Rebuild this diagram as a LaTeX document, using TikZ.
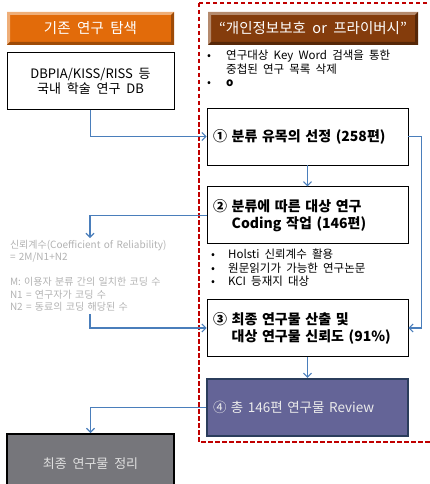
\documentclass[tikz,border=0pt]{standalone}
\usepackage{fontspec}
\setmainfont{Noto Sans CJK KR}[WordSpace=2]
\usepackage{xcolor}
\usetikzlibrary{arrows.meta,positioning}
\definecolor{linkblue}{HTML}{4A7EBB}
\definecolor{hdrorange}{HTML}{E26B0A}
\definecolor{hdrbrown}{HTML}{843C0C}
\definecolor{reviewfill}{HTML}{646497}
\definecolor{reviewline}{HTML}{2B3D5C}
\definecolor{finalfill}{HTML}{76767B}
\definecolor{framered}{HTML}{C00000}
\newcommand{\bul}[1]{\makebox[#1][l]{•}}

\begin{document}
\begin{tikzpicture}[
        x=1pt, y=1pt,
        bevel/.style n args={3}{fill=#1, path picture={
            \fill[#2] (path picture bounding box.south west) -- (path picture bounding box.north west) -- (path picture bounding box.north east)
                -- ([shift={(-3pt,-3pt)}]path picture bounding box.north east) -- ([shift={(3pt,-3pt)}]path picture bounding box.north west)
                -- ([shift={(3pt,3pt)}]path picture bounding box.south west) -- cycle;
            \fill[#3] (path picture bounding box.south west) -- (path picture bounding box.south east) -- (path picture bounding box.north east)
                -- ([shift={(-3pt,-3pt)}]path picture bounding box.north east) -- ([shift={(-3pt,3pt)}]path picture bounding box.south east)
                -- ([shift={(3pt,3pt)}]path picture bounding box.south west) -- cycle;
        }},
        hdr/.style={minimum height=33pt, text=white, font=\fontsize{14.5}{16}\selectfont, inner sep=0pt},
        box/.style={draw, line width=0.8pt, minimum width=167pt, align=center, font=\fontsize{13}{15}\selectfont},
        stepbox/.style={draw, line width=0.8pt, minimum width=201pt, minimum height=57pt, text width=189pt, inner xsep=6pt,
            align=left, font=\fontsize{14}{17}\selectfont\bfseries},
        notes/.style={align=left, inner sep=0pt, font=\fontsize{11.5}{13.5}\selectfont},
        arrow/.style={-{Straight Barb[length=4pt,width=8pt]}, linkblue, line width=1.1pt},
        frame/.style={framered, line width=1.3pt, dash pattern=on 4.5pt off 2.5pt}
    ]
    \useasboundingbox (0,0) rectangle (430,-484);

    % left column
    \node[hdr, bevel={hdrorange}{hdrorange!55!white}{hdrorange!70!black}, minimum width=167pt] (srch) at (90.5,-28.5) {기존 연구 탐색};
    \node[box, minimum height=57pt, below=7pt of srch] (db) {DBPIA/KISS/RISS 등\\국내 학술 연구 DB};
    \node[align=left, text width=160pt, inner sep=2pt, text=black!30, font=\fontsize{10}{12.5}\selectfont, anchor=north] (coef) at (90,-238)
        {신뢰계수(Coefficient of Reliability)\\= 2M/N1+N2\\[12.5pt]M: 이용자 분류 간의 일치한 코딩 수\\N1 = 연구자가 코딩 수\\N2 = 동료의 코딩 해당된 수};
    \node[box, fill=finalfill, line width=1.6pt, minimum height=60pt, text=white!88!black, anchor=north] (final) at (90.5,-433) {최종 연구물 정리};

    % right column
    \draw[frame] (199,-3) rectangle (434,-442);
    \node[hdr, bevel={hdrbrown}{hdrbrown!60!white}{hdrbrown!65!black}, minimum width=210pt] (kw) at (313,-28.5) {“개인정보보호 or 프라이버시”};
    \node[notes, anchor=north west] (kwnote) at (207,-50) {\bul{19pt}연구대상 Key Word 검색을 통한\\\hspace*{19pt}중첩된 연구 목록 삭제\\\bul{19pt}\textbf{o}};
    \node[stepbox] (s1) at (307.5,-136.5) {① 분류 유목의 선정 (258편)};
    \node[stepbox, below=21pt of s1] (s2) {② 분류에 따른 대상 연구\\\phantom{②~}Coding 작업 (146편)};
    \node[notes, anchor=north west] (s2note) at (211,-249) {\bul{17pt}Holsti 신뢰계수 활용\\\bul{17pt}원문읽기가 가능한 연구논문\\\bul{17pt}KCI 등재지 대상};
    \node[stepbox] (s3) at (307.5,-328) {③ 최종 연구물 산출 및\\\phantom{③~}대상 연구물 신뢰도 (91\%)};
    \node[stepbox, fill=reviewfill, draw=reviewline, line width=1.8pt, text=white!92!black, font=\fontsize{13.5}{16}\selectfont, below=21pt of s3] (s4) {④ 총 146편 연구물 Review};

    % connectors
    \draw[arrow] (db.south) |- (s1.west);
    \draw[arrow] (s1.south) -- (s2.north);
    \draw[arrow] (s1.east) -- ++(13,0) |- (s3.east);
    \draw[arrow] (s2.west) -| (coef.north);
    \draw[arrow] (coef.south) |- (s3.west);
    \draw[arrow] (s3.south) -- (s4.north);
    \draw[arrow] (s4.west) -| (final.north);
\end{tikzpicture}
\end{document}
